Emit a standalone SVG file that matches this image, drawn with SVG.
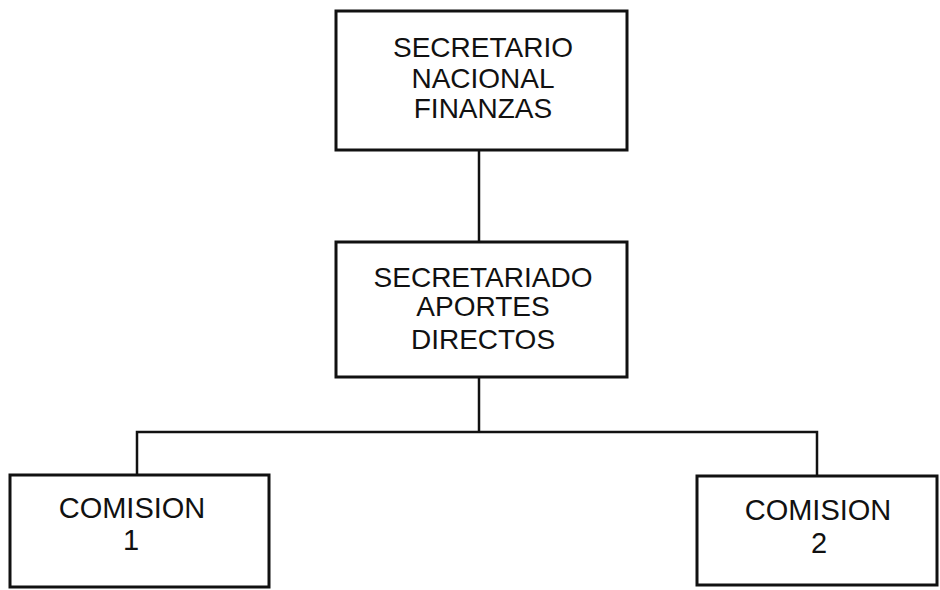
<svg xmlns="http://www.w3.org/2000/svg" width="940" height="590" viewBox="0 0 940 590">
<style>
.box{fill:#fff;stroke:#111;stroke-width:3}
.conn{fill:none;stroke:#111;stroke-width:2.5}
text{font-family:"Liberation Sans",Arial,sans-serif;font-size:28px;fill:#111;text-anchor:middle}
</style>
<rect width="940" height="590" fill="#fff"/>
<g id="connectors">
<line class="conn" x1="479" y1="150" x2="479" y2="242"/>
<line class="conn" x1="479" y1="377" x2="479" y2="432"/>
<polyline class="conn" points="137,475 137,432 817,432 817,476"/>
</g>
<g id="secretario">
<rect class="box" x="336" y="11" width="291" height="139"/>
<text x="483" y="57">SECRETARIO</text>
<text x="483" y="88">NACIONAL</text>
<text x="483" y="118">FINANZAS</text>
</g>
<g id="secretariado">
<rect class="box" x="336" y="242" width="291" height="135"/>
<text x="483" y="287">SECRETARIADO</text>
<text x="483" y="316">APORTES</text>
<text x="483" y="349">DIRECTOS</text>
</g>
<g id="comision1">
<rect class="box" x="10" y="475" width="259" height="112"/>
<text x="132" y="518" style="font-size:29px">COMISION</text>
<text x="131" y="550" style="font-size:29px">1</text>
</g>
<g id="comision2">
<rect class="box" x="697" y="476" width="240" height="109"/>
<text x="818" y="520" style="font-size:29px">COMISION</text>
<text x="819" y="553" style="font-size:29px">2</text>
</g>
</svg>
